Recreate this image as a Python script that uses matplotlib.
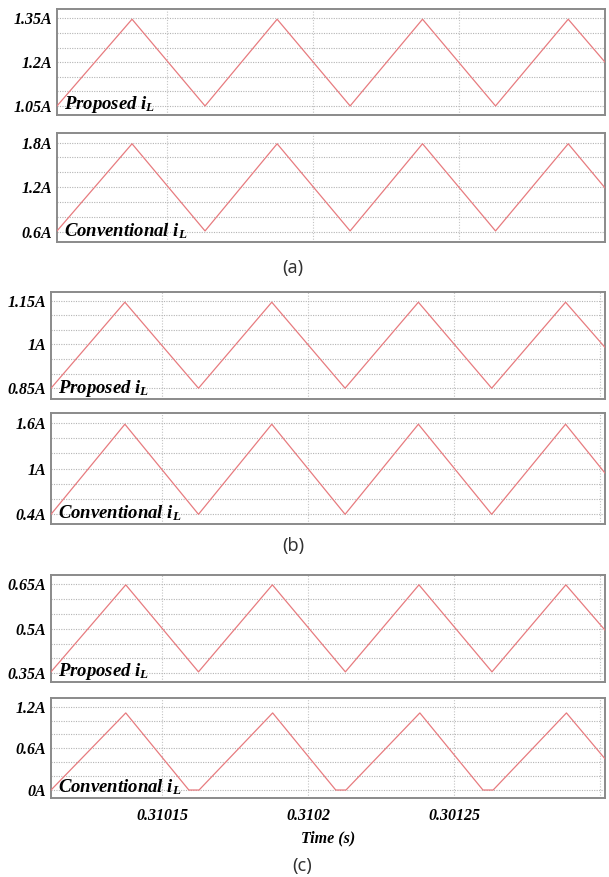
import matplotlib
matplotlib.use("Agg")
import matplotlib.pyplot as plt

plt.rcParams['mathtext.fontset'] = 'custom'
plt.rcParams['mathtext.it'] = 'Liberation Serif:italic:bold'
plt.rcParams['mathtext.rm'] = 'Liberation Serif:bold'

# ---------------- data ----------------
a_t = [0.3101123, 0.3101380, 0.3101630, 0.3101877, 0.3102127, 0.3102375, 0.3102625, 0.3102874, 0.3103000]
a_prop = [1.05, 1.347, 1.05, 1.347, 1.05, 1.347, 1.05, 1.347, 1.20]
a_conv = [0.61, 1.785, 0.61, 1.785, 0.61, 1.785, 0.61, 1.785, 1.19]

b_t = [0.3101120, 0.3101373, 0.3101625, 0.3101876, 0.3102127, 0.3102378, 0.3102629, 0.3102882, 0.3103017]
b_prop = [0.85, 1.145, 0.85, 1.145, 0.85, 1.145, 0.85, 1.145, 0.99]
b_conv = [0.40, 1.58, 0.40, 1.58, 0.40, 1.58, 0.40, 1.58, 0.94]

c_t = [0.3101120, 0.3101376, 0.3101625, 0.3101878, 0.3102128, 0.3102380, 0.3102630, 0.3102883, 0.3103017]
c_prop = [0.355, 0.647, 0.355, 0.647, 0.355, 0.647, 0.355, 0.647, 0.495]
c_conv_t = [0.3101120, 0.3101376, 0.3101592, 0.3101627, 0.3101879, 0.3102095,
            0.3102130, 0.3102383, 0.3102599, 0.3102634, 0.3102885, 0.3103017]
c_conv = [0.0, 1.11, 0.0, 0.0, 1.11, 0.0, 0.0, 1.11, 0.0, 0.0, 1.11, 0.45]

x_ticks = [0.31015, 0.31020, 0.31025, 0.31030]
x_ticklabels = ["0.31015", "0.3102", "0.30125", ""]

y_ticks_a1 = [1.05, 1.10, 1.15, 1.20, 1.25, 1.30, 1.35]
y_labels_a1 = ["1.05A", "", "", "1.2A", "", "", "1.35A"]
y_ticks_a2 = [0.6, 0.8, 1.0, 1.2, 1.4, 1.6, 1.8]
y_labels_a2 = ["0.6A", "", "", "1.2A", "", "", "1.8A"]
y_ticks_b1 = [0.85, 0.90, 0.95, 1.00, 1.05, 1.10, 1.15]
y_labels_b1 = ["0.85A", "", "", "1A", "", "", "1.15A"]
y_ticks_b2 = [0.4, 0.6, 0.8, 1.0, 1.2, 1.4, 1.6]
y_labels_b2 = ["0.4A", "", "", "1A", "", "", "1.6A"]
y_ticks_c1 = [0.35, 0.40, 0.45, 0.50, 0.55, 0.60, 0.65]
y_labels_c1 = ["0.35A", "", "", "0.5A", "", "", "0.65A"]
y_ticks_c2 = [0.0, 0.2, 0.4, 0.6, 0.8, 1.0, 1.2]
y_labels_c2 = ["0A", "", "", "0.6A", "", "", "1.2A"]

label_prop = r"Proposed $i_L$"
label_conv = r"Conventional $i_L$"
captions = ["(a)", "(b)", "(c)"]
x_title = "Time (s)"

# ---------------- figure ----------------
W, H = 609, 877
fig = plt.figure(figsize=(W / 100, H / 100), dpi=100)

serif_bi = dict(family="Liberation Serif", weight="bold", style="italic")
line_color = "#e77b7f"
spine_color = "#8a8a8a"
grid_color = "#b4b4b4"


def make_axes(px_left, px_right, px_top, px_bottom):
    return fig.add_axes([px_left / W, 1 - px_bottom / H,
                         (px_right - px_left) / W, (px_bottom - px_top) / H])


panels = [
    ((57, 605, 9, 115), a_t, a_prop, (0.3101123, 0.3103000), (1.019, 1.382), y_ticks_a1, y_labels_a1, label_prop, False),
    ((57, 605, 133, 242), a_t, a_conv, (0.3101123, 0.3103000), (0.461, 1.930), y_ticks_a2, y_labels_a2, label_conv, False),
    ((51, 605, 292, 399), b_t, b_prop, (0.3101120, 0.3103017), (0.813, 1.180), y_ticks_b1, y_labels_b1, label_prop, False),
    ((51, 605, 413, 524), b_t, b_conv, (0.3101120, 0.3103017), (0.273, 1.727), y_ticks_b2, y_labels_b2, label_conv, False),
    ((51, 605, 575, 682), c_t, c_prop, (0.3101120, 0.3103017), (0.321, 0.680), y_ticks_c1, y_labels_c1, label_prop, False),
    ((51, 605, 698, 798), c_conv_t, c_conv, (0.3101120, 0.3103017), (-0.115, 1.325), y_ticks_c2, y_labels_c2, label_conv, True),
]

for box, t, y, xlim, ylim, yt, yl, lab, show_x in panels:
    ax = make_axes(*box)
    ax.plot(t, y, color=line_color, lw=0.9, zorder=3)
    ax.set_xlim(*xlim)
    ax.set_ylim(*ylim)
    ax.set_yticks(yt)
    ax.set_yticklabels(yl, fontsize=11.5, **serif_bi)
    ax.set_xticks(x_ticks)
    if show_x:
        ax.set_xticklabels(x_ticklabels, fontsize=11.5, **serif_bi)
        ax.set_xlabel(x_title, fontsize=11.5, labelpad=5, **serif_bi)
    else:
        ax.set_xticklabels([])
    ax.tick_params(axis="y", length=0, pad=3.5)
    ax.tick_params(axis="x", length=0, pad=7)
    ax.grid(True, axis="y", color=grid_color, lw=0.8, linestyle=(0, (1, 1.2)))
    ax.grid(True, axis="x", color="#c4c4c4", lw=0.8, linestyle=(0, (1, 1.5)))
    for s in ax.spines.values():
        s.set_color(spine_color)
        s.set_linewidth(1.4)
    ax.annotate(lab, xy=(0, 0), xycoords="axes fraction", xytext=(7, 6),
                textcoords="offset pixels", ha="left", va="baseline",
                fontsize=13.5, color="black", zorder=5, **serif_bi)

caption_pos = [(293, 268), (293, 546), (302, 866)]
for cap, (cx, cy) in zip(captions, caption_pos):
    fig.text(cx / W, 1 - cy / H, cap, ha="center", va="center",
             fontsize=13, color="#333333", family="Noto Sans")

fig.savefig("out.png", dpi=100)
